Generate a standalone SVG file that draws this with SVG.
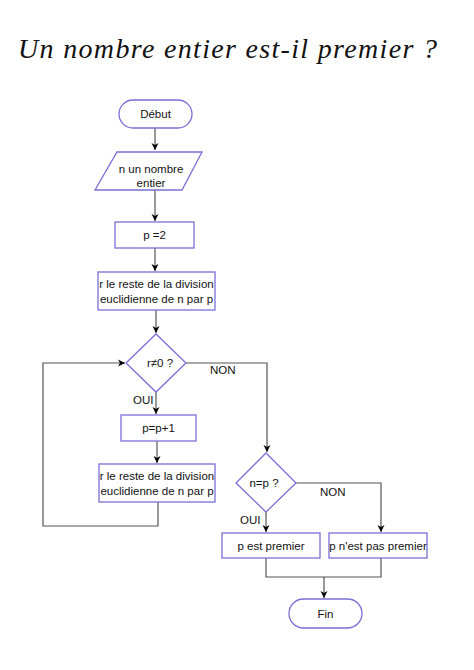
<svg xmlns="http://www.w3.org/2000/svg" width="474" height="670" viewBox="0 0 474 670">
<style>
.n{fill:#fff;stroke:#7a6fd6;stroke-width:1.3}
.t{font-family:"Liberation Sans",Arial,sans-serif;font-size:11.5px;fill:#111;text-anchor:middle}
.l{font-family:"Liberation Sans",Arial,sans-serif;font-size:11.5px;fill:#111}
.c{fill:none;stroke:#555;stroke-width:1.2}
.title{font-family:"Liberation Serif","Times New Roman",serif;font-style:italic;font-size:28px;fill:#111}
</style>
<defs>
<marker id="a" markerWidth="8" markerHeight="8" refX="7" refY="4" orient="auto" markerUnits="userSpaceOnUse">
<path d="M0,0.5 L7,4 L0,7.5 L2,4 Z" fill="#000"/>
</marker>
</defs>
<rect width="474" height="670" fill="#fff"/>
<text class="title" x="18" y="58" textLength="419" lengthAdjust="spacing">Un nombre entier est-il premier ?</text>
<g id="connectors">
<path class="c" d="M155,128 V150" marker-end="url(#a)"/>
<path class="c" d="M155,190 V221" marker-end="url(#a)"/>
<path class="c" d="M155,248 V271" marker-end="url(#a)"/>
<path class="c" d="M156,310 V333" marker-end="url(#a)"/>
<path class="c" d="M156,392 V414" marker-end="url(#a)"/>
<path class="c" d="M157,441 V463" marker-end="url(#a)"/>
<path class="c" d="M158,502 V526 H43 V363 H125" marker-end="url(#a)"/>
<path class="c" d="M186,363 H267 V452" marker-end="url(#a)"/>
<path class="c" d="M266,512 V532" marker-end="url(#a)"/>
<path class="c" d="M296,483 H381 V532" marker-end="url(#a)"/>
<path class="c" d="M266,558 V577 H381 V558"/>
<path class="c" d="M324,577 V598" marker-end="url(#a)"/>
</g>
<g id="debut"><rect class="n" x="119" y="100" width="73" height="28" rx="14"/><text class="t" x="155.5" y="118">Début</text></g>
<g id="input"><polygon class="n" points="117,152 202,152 182,190 95,190"/><text class="t" x="151" y="173">n un nombre</text><text class="t" x="151" y="187">entier</text></g>
<g id="p2"><rect class="n" x="115" y="222" width="79" height="26"/><text class="t" x="154.5" y="239">p =2</text></g>
<g id="reste1"><rect class="n" x="98" y="272" width="117" height="38"/><text class="t" x="156.5" y="288">r le reste de la division</text><text class="t" x="156.5" y="303">euclidienne de n par p</text></g>
<g id="test1"><polygon class="n" points="156,334 186,363 156,392 126,363"/><text class="t" x="160" y="367">r≠0 ?</text></g>
<g id="inc"><rect class="n" x="121" y="415" width="75" height="26"/><text class="t" x="158.5" y="432">p=p+1</text></g>
<g id="reste2"><rect class="n" x="99" y="464" width="116" height="38"/><text class="t" x="157" y="480">r le reste de la division</text><text class="t" x="157" y="495">euclidienne de n par p</text></g>
<g id="test2"><polygon class="n" points="266,453 296,483 266,512 236,483"/><text class="t" x="264" y="487">n=p ?</text></g>
<g id="premier"><rect class="n" x="222" y="533" width="98" height="25"/><text class="t" x="271" y="550">p est premier</text></g>
<g id="pasPremier"><rect class="n" x="329" y="533" width="98" height="25"/><text class="t" x="378" y="550">p n'est pas premier</text></g>
<g id="fin"><rect class="n" x="289" y="599" width="73" height="29" rx="14.5"/><text class="t" x="325.5" y="618">Fin</text></g>
<g id="labels">
<text class="l" x="210" y="374">NON</text>
<text class="l" x="133" y="404">OUI</text>
<text class="l" x="320" y="496">NON</text>
<text class="l" x="240" y="524">OUI</text>
</g>
</svg>
